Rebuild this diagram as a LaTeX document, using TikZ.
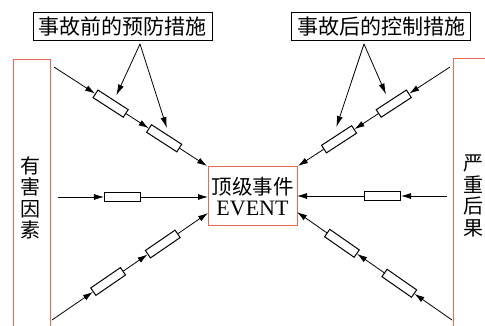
\documentclass[tikz,border=0pt]{standalone}
\usepackage{fontspec}
\setmainfont{Liberation Serif}
\newfontfamily\cjk{Noto Sans CJK SC}
\usetikzlibrary{arrows.meta,calc}
\definecolor{redline}{RGB}{232,105,92}
\tikzset{
  mybox/.style={draw=black, fill=white, line width=1pt, minimum width=36pt, minimum height=9pt, inner sep=0pt, sloped},
  arr/.style={line width=0.8pt, -{Latex[length=10pt,width=6pt]}},
  ptr/.style={line width=0.8pt, -{Latex[length=11pt,width=6pt]}},
  lab/.style={draw=black, line width=1pt, minimum width=179pt, minimum height=28pt, inner sep=0pt, font=\cjk\fontsize{21pt}{22pt}\selectfont},
  side/.style={draw=redline, line width=1pt},
  vtext/.style={font=\cjk\fontsize{20pt}{21.5pt}\selectfont, align=center, inner sep=0pt}
}
\begin{document}
\begin{tikzpicture}[x=1pt,y=-1pt]
\useasboundingbox (0,0) rectangle (485,326);
\fill[white] (0,0) rectangle (485,326);
% side boxes
\draw[side] (13,330) -- (13,60) -- (50,60) -- (50,330);
\draw[side] (490,59) -- (453,59) -- (453,330);
\node[vtext] (left) at (30,198) {有\\害\\因\\素};
\node[vtext] (right) at (473,196) {严\\重\\后\\果};
% labels
\node[lab] (lab1) at (122.5,27) {事故前的预防措施};
\node[lab] (lab2) at (381,27) {事故后的控制措施};
% center
\node[draw=redline, line width=1pt, minimum width=89pt, minimum height=59pt, inner sep=0pt, align=center] (top) at (252.5,196.5)
  {{\cjk\fontsize{20.5pt}{21pt}\selectfont 顶级事件}\\[3pt]{\fontsize{22pt}{22pt}\selectfont EVENT}};
% endpoints
\coordinate (tlA) at (54,67);  \coordinate (tlT) at (207,166);
\coordinate (trA) at (450,67); \coordinate (trT) at (298,166);
\coordinate (mlA) at (58,197); \coordinate (mlT) at (208,197);
\coordinate (mrA) at (447,196); \coordinate (mrT) at (297,196);
\coordinate (blA) at (52,320); \coordinate (blT) at (208,213);
\coordinate (brA) at (452,320); \coordinate (brT) at (297,212);
% boxes
\path (tlA) -- (tlT) node[mybox,pos=0.37] (tl1) {} node[mybox,pos=0.72] (tl2) {};
\path (trT) -- (trA) node[mybox,pos=0.27] (tr2) {} node[mybox,pos=0.63] (tr1) {};
\path (mlA) -- (mlT) node[mybox,pos=0.43] (ml1) {};
\path (mrT) -- (mrA) node[mybox,pos=0.57] (mr1) {};
\path (blA) -- (blT) node[mybox,pos=0.36] (bl1) {} node[mybox,pos=0.71] (bl2) {};
\path (brT) -- (brA) node[mybox,pos=0.29] (br2) {} node[mybox,pos=0.66] (br1) {};
% connectors
\draw[arr] (tlA) -- (tl1.west); \draw[arr] (tl1.east) -- (tl2.west); \draw[arr] (tl2.east) -- (tlT);
\draw[arr] (trA) -- (tr1.east); \draw[arr] (tr1.west) -- (tr2.east); \draw[arr] (tr2.west) -- (trT);
\draw[arr] (mlA) -- (ml1.west); \draw[arr] (ml1.east) -- (mlT);
\draw[arr] (mrA) -- (mr1.east); \draw[arr] (mr1.west) -- (mrT);
\draw[arr] (blA) -- (bl1.west); \draw[arr] (bl1.east) -- (bl2.west); \draw[arr] (bl2.east) -- (blT);
\draw[arr] (brA) -- (br1.east); \draw[arr] (br1.west) -- (br2.east); \draw[arr] (br2.west) -- (brT);
% pointers
\coordinate (p1) at (140,44);
\coordinate (p2) at (364,44);
\draw[ptr] (p1) -- ($(tl1.north)+(3,-4)$);
\draw[ptr] (p1) -- ($(tl2.north)+(0,-6)$);
\draw[ptr] (p2) -- ($(tr1.north)+(-5,-5)$);
\draw[ptr] (p2) -- ($(tr2.north)+(0,-8)$);
\end{tikzpicture}
\end{document}
